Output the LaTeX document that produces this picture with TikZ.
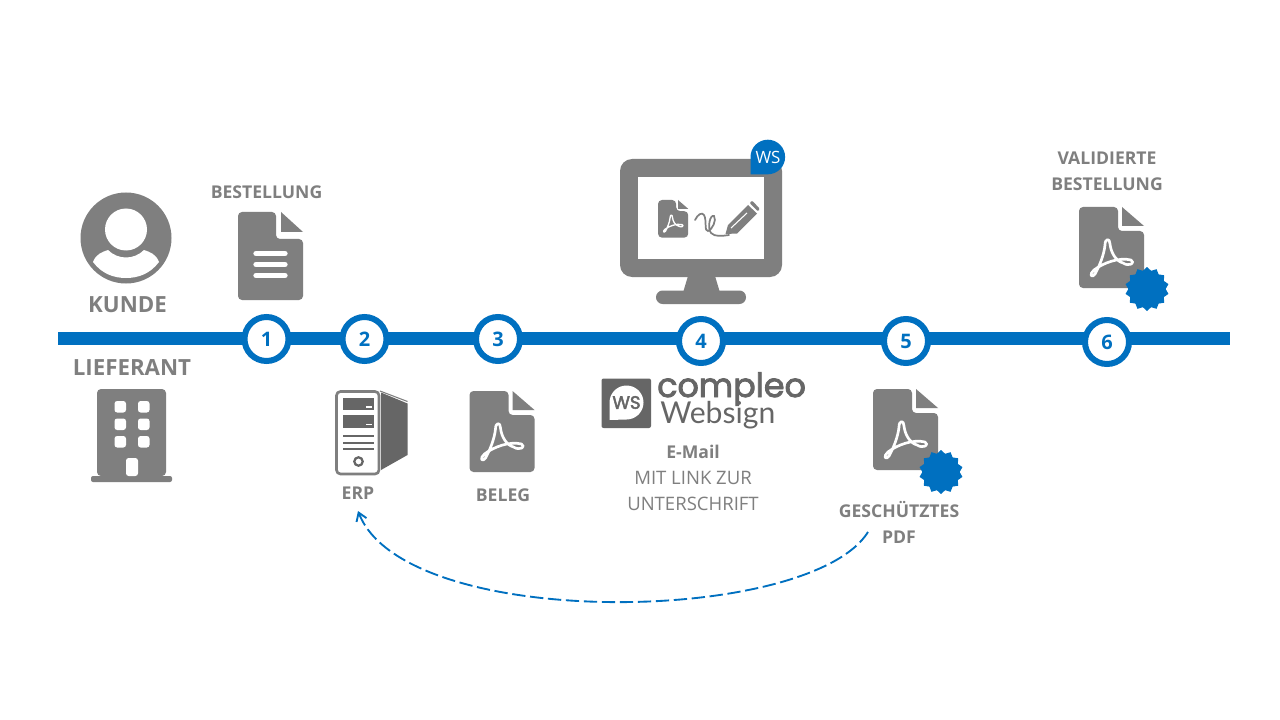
\documentclass[tikz,border=0pt]{standalone}
\usepackage{fontspec}
\setmainfont{Open Sans}
\newfontfamily\logofont[FakeBold=2.5]{Poppins}
\newfontfamily\subfont{Lato}
\usetikzlibrary{shapes.geometric, arrows.meta, positioning}
\definecolor{WsBlue}{HTML}{0070C0}
\definecolor{IconGrey}{HTML}{7F7F7F}
\definecolor{LogoGrey}{HTML}{666666}
\tikzset{
    caption/.style={text=IconGrey, font=\fontsize{13.2}{19.5}\selectfont\bfseries, align=center, inner sep=0pt},
    bigcaption/.style={text=IconGrey, font=\fontsize{16.7}{20}\selectfont\bfseries, align=center, inner sep=0pt},
    thincaption/.style={text=IconGrey, font=\fontsize{13.9}{19.5}\selectfont, align=center, inner sep=0pt},
    stepdot/.style={circle, draw=WsBlue, fill=white, line width=4.5pt, minimum size=33pt, inner sep=0pt,
        text=WsBlue, font=\fontsize{15}{16}\selectfont\bfseries},
    seal/.style={star, star points=14, star point ratio=1.18, fill=WsBlue, minimum size=33pt, inner sep=0pt},
    acro/.style={draw=white, line width=2pt, line join=round},
    pics/pdfsheet/.style={code={
        \fill[IconGrey, rounded corners=3pt] (0,0) -- (39,0) -- (39,24) -- (65,24) -- (65,81) -- (0,81) -- cycle;
        \fill[IconGrey] (43,0) -- (65,19) -- (43,19) -- cycle;
        \path[acro] (16,67) .. controls (20,60) and (25,48) .. (26,38)
            .. controls (26,31) and (31,31) .. (31,37)
            .. controls (32,46) and (37,54) .. (44,56)
            .. controls (50,60) and (57,56) .. (52,53)
            .. controls (40,50) and (24,56) .. (15,63)
            .. controls (10,67) and (12,72) .. (16,67) -- cycle;
    }},
    pics/textsheet/.style={code={
        \fill[IconGrey, rounded corners=3pt] (0,0) -- (38,0) -- (38,27) -- (65,27) -- (65,88) -- (0,88) -- cycle;
        \fill[IconGrey] (43,0) -- (65,20) -- (43,20) -- cycle;
        \foreach \ypos in {41.5,52.5,63.5}
            \draw[white, line width=4pt, line cap=round] (18,\ypos) -- (47,\ypos);
    }},
}

\begin{document}
\begin{tikzpicture}[x=0.75pt, y=-0.75pt]
    \useasboundingbox (0,0) rectangle (1280,720);
    \fill[white] (0,0) rectangle (1280,720);

    % Timeline
    \fill[WsBlue] (58,332) rectangle (1230,345);
    \node[stepdot] (s1) at (266.5,339) {1};
    \node[stepdot] (s2) at (364.5,339) {2};
    \node[stepdot] (s3) at (498,339) {3};
    \node[stepdot] (s4) at (701,341) {4};
    \node[stepdot] (s5) at (906,341) {5};
    \node[stepdot] (s6) at (1107,342) {6};

    % Customer
    \fill[IconGrey] (126,238) circle (45.5);
    \fill[white] (126,229.5) circle (21);
    \fill[white] (93,262) .. controls (96,254) and (102,252) .. (108,250)
        .. controls (118,260) and (134,260) .. (144,250)
        .. controls (150,252) and (156,254) .. (159,262)
        .. controls (150,274) and (138,278) .. (126,278)
        .. controls (114,278) and (102,274) .. (93,262) -- cycle;
    \node[bigcaption] (kunde) at (127.5,304.5) {KUNDE};

    % Supplier
    \node[bigcaption] (lieferant) at (132,368) {LIEFERANT};
    \fill[IconGrey, rounded corners=3pt] (97,476) -- (97,389) -- (166,389) -- (166,476) -- cycle;
    \fill[IconGrey, rounded corners=1.5pt] (91,476) rectangle (172,482);
    \foreach \xpos in {114.5,138}
        \foreach \ypos in {401,418.5,436}
            \fill[white, rounded corners=2pt] (\xpos,\ypos) rectangle ++(11.5,11.5);
    \fill[white, rounded corners=2pt] (126,476) -- (126,458) -- (138,458) -- (138,476) -- cycle;

    % Order
    \node[caption] (order) at (266.5,192) {BESTELLUNG};
    \pic (ordersheet) at (238,212) {textsheet};

    % ERP
    \draw[IconGrey, line width=2pt, rounded corners=3pt, fill=white] (336.5,391.5) rectangle (379,474);
    \fill[LogoGrey] (381,392.5) -- (407.5,403.5) -- (407.5,455) -- (381,470) -- cycle;
    \draw[IconGrey, line width=0.8pt] (380,391) -- (407.5,401.5);
    \foreach \ypos in {397.5,415} {
        \fill[LogoGrey] (343,\ypos) rectangle ++(30.5,12.5);
        \draw[white, line width=0.8pt] (366,\ypos+9.5) -- ++(5.5,0);
    }
    \foreach \ypos in {435.5,442.5,449}
        \draw[LogoGrey, line width=1.5pt] (343,\ypos) -- (373.5,\ypos);
    \draw[LogoGrey, line width=1.7pt] (358.5,461.5) circle (4.2);
    \node[caption] (erp) at (358,493) {ERP};

    % Receipt
    \pic (receipt) at (469.5,391) {pdfsheet};
    \node[caption] (beleg) at (503,495.5) {BELEG};

    % Monitor
    \fill[IconGrey, rounded corners=9pt] (620,159) rectangle (782,277);
    \fill[white] (638,177) rectangle (764,258.5);
    \fill[IconGrey] (688,276) -- (715,276) -- (719.5,291) -- (683.5,291) -- cycle;
    \fill[IconGrey, rounded corners=5pt] (656,290.5) rectangle (746,304);
    \pic[scale=0.465, acro/.append style={line width=1pt}] (screenpdf) at (658,200) {pdfsheet};
    \draw[IconGrey, line width=1.3pt, line cap=round] (695,220) .. controls (698,214) and (702,212) .. (704,215)
        .. controls (707,220) and (704,232) .. (708,231)
        .. controls (712,230) and (717,220) .. (714,216)
        .. controls (710,214) and (707,228) .. (711,233)
        .. controls (715,237) and (722,236) .. (729,235);
    \fill[IconGrey] (725.5,234) -- (728,225) -- (748,205) -- (757,213.5) -- (737,233.5) -- cycle;
    \fill[IconGrey, rounded corners=1pt] (749.5,203) -- (752,200.5) -- (760,209) -- (758,211.5) -- cycle;
    \draw[white, line width=0.8pt] (731,228) -- (747,213);
    \fill[WsBlue] (750.5,174.5) -- (750.5,157) arc[start angle=180, end angle=450, radius=17.3] -- cycle;
    \node[text=white, font=\fontsize{12.7}{14}\selectfont, inner sep=0pt] (badge) at (768,157) {WS};

    % Logo
    \fill[LogoGrey, rounded corners=1.5pt] (601.5,378.5) rectangle (651,428);
    \fill[white] (609.5,420) -- (609.5,402.5) arc[start angle=180, end angle=450, radius=17] -- cycle;
    \node[text=LogoGrey, font=\logofont\fontsize{13.5}{15}\selectfont, inner sep=0pt] (logomark) at (626.5,402.5) {WS};
    \node[text=LogoGrey, font=\logofont\fontsize{25}{30}\selectfont, inner sep=0pt, anchor=base west] (compleo) at (657,397) {compleo};
    \node[text=LogoGrey, font=\subfont\fontsize{22.6}{26}\selectfont, inner sep=0pt, anchor=base west] (websign) at (660,423) {Websign};

    % Mail text
    \node[caption] (mail) at (693,452) {E-Mail};
    \node[thincaption] (mailtext) at (693,491) {MIT LINK ZUR\\UNTERSCHRIFT};

    % Protected pdf
    \pic (protected) at (873,389) {pdfsheet};
    \node[seal] (seal5) at (941,472) {};
    \node[caption] (protectedtext) at (899,522) {GESCHÜTZTES\\PDF};

    % Validated order
    \node[caption] (validtext) at (1107,171) {VALIDIERTE\\BESTELLUNG};
    \pic (valid) at (1079,207) {pdfsheet};
    \node[seal] (seal6) at (1147,289) {};

    % Return path
    \coordinate (backstart) at (868,532);
    \coordinate (backend) at (358,511);
    \draw[WsBlue, line width=1.4pt, dash pattern=on 10pt off 3.5pt, -{Straight Barb[length=6pt,width=8pt]}]
        (backstart) .. controls (810,625) and (405,632) .. (backend);
\end{tikzpicture}
\end{document}
